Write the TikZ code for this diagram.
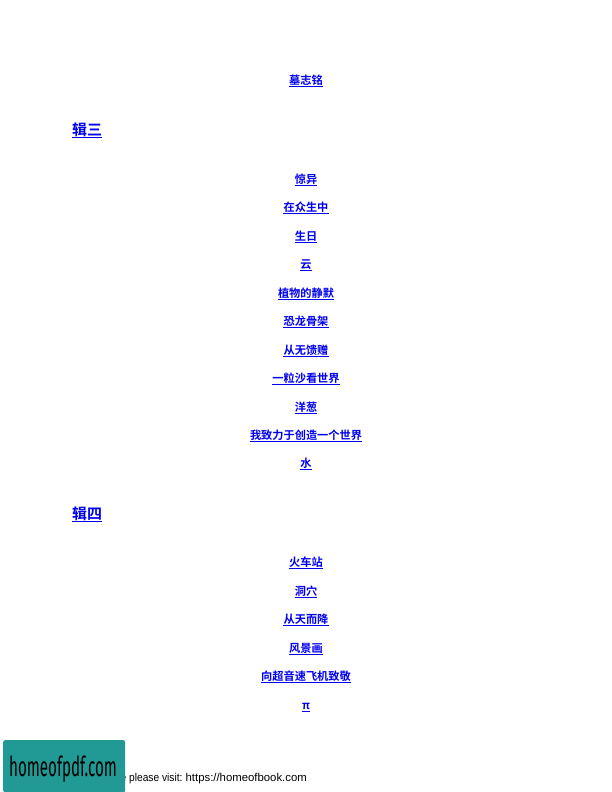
\documentclass[tikz,border=0pt]{standalone}
\usepackage{fontspec}
\setmainfont{Liberation Sans}
\newfontfamily\cjkbold[BoldFont={Noto Sans CJK SC Bold}]{Noto Sans CJK SC}
\newfontfamily\badgefont{Fira Sans}
\definecolor{linkblue}{RGB}{0,0,238}
\definecolor{badgeteal}{RGB}{33,153,148}
\tikzset{
  x=1bp,y=-1bp,
  underlined/.style={inner sep=0pt,text=linkblue,
    append after command={(\tikzlastnode.south west) edge[linkblue,line width=0.9bp] (\tikzlastnode.south east)}},
  entry/.style={underlined,anchor=center,text height=9.4bp,text depth=1.2bp,yshift=-0.6bp,
    font={\fontsize{11.2bp}{13bp}\cjkbold\bfseries}},
  heading/.style={underlined,anchor=west,text height=12.6bp,text depth=1.8bp,yshift=-1bp,
    font={\fontsize{15bp}{18bp}\cjkbold\bfseries}},
  footertext/.style={inner sep=0pt,anchor=east,text=black,font={\fontsize{11.35bp}{14bp}\selectfont}},
  badge/.style={fill=badgeteal,draw=none,rounded corners=2bp,inner sep=0pt,anchor=north west,
    minimum width=122bp,minimum height=52bp},
  badgetext/.style={inner sep=0pt,anchor=center,text=black,font={\fontsize{22bp}{24bp}\badgefont}}
}
\begin{document}
\begin{tikzpicture}
\useasboundingbox (0,0) rectangle (612,792);
\fill[white] (0,0) rectangle (612,792);
\node[entry] (e1) at (306,80) {墓志铭};
\node[heading] (h3) at (72,129) {辑三};
\node[entry] (a1) at (306,179) {惊异};
\node[entry] (a2) at (306,207.1) {在众生中};
\node[entry] (a3) at (306,236) {生日};
\node[entry] (a4) at (306,264.1) {云};
\node[entry] (a5) at (306,293) {植物的静默};
\node[entry] (a6) at (306,321.1) {恐龙骨架};
\node[entry] (a7) at (306,350) {从无馈赠};
\node[entry] (a8) at (306,378.1) {一粒沙看世界};
\node[entry] (a9) at (306,407) {洋葱};
\node[entry] (a10) at (306,435) {我致力于创造一个世界};
\node[entry] (a11) at (306,463.1) {水};
\node[heading] (h4) at (72,513) {辑四};
\node[entry] (b1) at (306,562.1) {火车站};
\node[entry] (b2) at (306,591) {洞穴};
\node[entry] (b3) at (306,619.1) {从天而降};
\node[entry] (b4) at (306,648) {风景画};
\node[entry] (b5) at (306,676.1) {向超音速飞机致敬};
\node[entry] (b6) at (306,705) {π};
\node[footertext] (foot) at (307,779) {\scalebox{0.9}[1]{e please visit:} https://homeofbook.com};
\node[badge] (bd) at (3,740) {};
\node[badgetext] (bt) at (63,769) {\scalebox{0.69}[1.25]{homeofpdf.com}};
\end{tikzpicture}
\end{document}
